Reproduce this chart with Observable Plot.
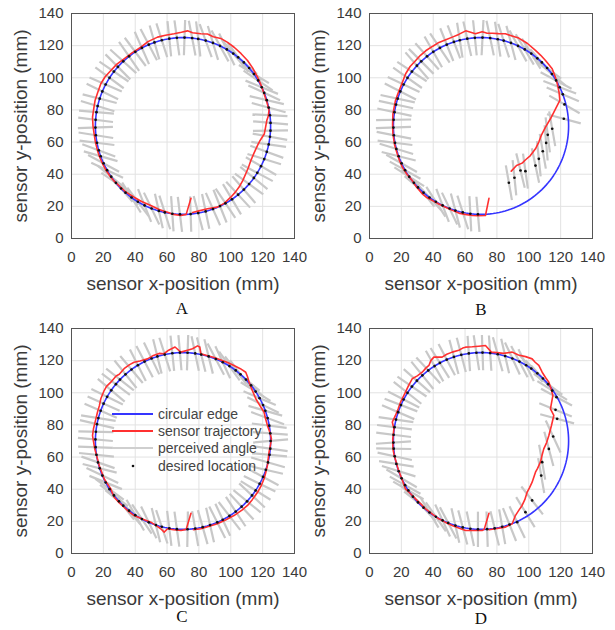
<!DOCTYPE html>
<html><head><meta charset="utf-8">
<script src="https://cdn.jsdelivr.net/npm/d3@7"></script>
<script src="https://cdn.jsdelivr.net/npm/@observablehq/plot@0.6"></script>
<style>
body{margin:0;background:#fff;width:615px;height:630px;position:relative;overflow:hidden;font-family:"Liberation Sans",Arial,sans-serif}
.panel{position:absolute}
.letter{position:absolute;font-family:"Liberation Serif","Times New Roman",serif;font-size:17px;color:#111;transform:translate(-50%,-50%)}
</style></head><body>
<div id="pA" class="panel" style="left:0;top:0"></div>
<div id="pB" class="panel" style="left:298px;top:0"></div>
<div id="pC" class="panel" style="left:0;top:315px"></div>
<div id="pD" class="panel" style="left:298px;top:315px"></div>
<div class="letter" style="left:182px;top:309px">A</div>
<div class="letter" style="left:481px;top:310px">B</div>
<div class="letter" style="left:182px;top:617px">C</div>
<div class="letter" style="left:481px;top:619px">D</div>
<svg id="legend" style="position:absolute;left:100px;top:400px" width="170" height="80">
  <line x1="12" x2="53" y1="14" y2="14" stroke="#3535ff" stroke-width="2"/>
  <line x1="12" x2="53" y1="31" y2="31" stroke="#ff3030" stroke-width="2"/>
  <line x1="12" x2="53" y1="48" y2="48" stroke="#cfcfcf" stroke-width="2"/>
  <circle cx="33" cy="66" r="1.3" fill="#111"/>
  <g font-family="Liberation Sans, Arial, sans-serif" font-size="14" fill="#444" dominant-baseline="central">
    <text x="58" y="14">circular edge</text>
    <text x="58" y="31">sensor trajectory</text>
    <text x="58" y="48">perceived angle</text>
    <text x="58" y="66">desired location</text>
  </g>
</svg>
<script>
// ---- shared axis data ----
const ticks = [0, 20, 40, 60, 80, 100, 120, 140];
const edgeCenterX = 70, edgeCenterY = 70, edgeRadius = 55; // circular edge (mm)

// ---- Panel A ----
const trajAx = [75,72,68.7,64,60.3,55,49.8,44,39.3,34,30.9,27,24.7,22,19.5,17.5,16.3,15,14.2,13.5,13.2,14,14.8,16.5,18.4,21,24.7,28.5,33,38,43.5,48,54,59,64.4,69,72.8,76,81.2,85.4,89,93.7,98,102.1,106.5,110.5,113.8,116.8,119,120.9,122.6,124,123.5,122.6,121.8,121,118.4,116.8,114.5,112.6,111,109.4,107.5,105.2,103,100,96,91.6,85.4,80,76];
const trajAy = [25,15,14.3,15,16.4,18,20.5,23,25.7,29,31.9,35.5,38.1,42,46.5,51,54.8,60,65.1,70,75.5,81,85.9,91,96.3,100.5,104.5,108.5,111.8,115.5,119,122.5,125.3,126.5,127.4,128.3,129.2,128,127.4,127.2,125.5,124.5,122,119,115,110.8,106,100.4,95.5,90,85,79.7,76,73.4,69,65,61,57.9,53,48.5,44,40.3,36,32,29,25.7,22,19.5,18.5,17.2,16.2];
const contactThetaA = [268,263,258,254,249,244,239,234,229,225,220,215,210,205,200,196,191,186,181,176,171,167,162,157,152,147,142,138,133,128,123,118,113,109,104,99,94,89,84,80,75,70,65,60,55,51,46,41,36,31,26,22,17,12,7,2,-3,-7,-12,-17,-22,-27,-32,-36,-41,-46,-51,-56,-61,-65,-70,-75,-80,-85];
const perceivedA = [97,94,108,103,116,112,127,122,136,131,146,141,155,152,164,160,173,171,182,173,175,163,166,154,157,144,146,135,138,125,127,114,118,106,108,96,98,88,101,97,110,107,119,116,130,126,139,135,149,146,158,155,167,165,177,175,181,170,172,160,163,150,152,141,144,131,133,121,124,112,114,102,105,92];

// ---- Panel B ----
const trajBx = [75,72.8,68,64.5,60,56.1,52,47.7,43.5,39.3,36,33.1,29.5,26.8,23.5,20.6,18.8,17.4,15.8,14.7,14.5,14.7,16.3,17.8,19.5,22.7,25.5,29,32,35.3,39.5,43.6,47.5,52,56,60.4,63.5,66.5,70.7,73.5,77,81,85.3,89.5,93.7,99,104.2,107.5,110.5,114.7,116.5,117.9,119,119.5,116.8,113.6,110.5,108,106.3,104.2,101,98,95.8,92.3,89];
const trajBy = [25,14.3,14.2,14.3,15,15.8,17.5,19.5,21.5,23.7,25.5,27.8,32,36.1,40,44.4,48.5,52.7,58,65.1,71,77.6,85.9,90,94.2,102.5,107,110.8,114,116.8,119.5,122,123.5,125.3,127,129.2,128.3,127.4,128.7,127.8,127.7,127.5,127.4,126,124.7,121.5,117,114,110.8,105.6,101,96.3,91,85.9,80.7,74.5,69.3,64.5,60,55.8,51.6,49,46.9,45.4,41.9];
const contactThetaB = [268,263,258,253,249,244,239,234,229,224,220,215,210,205,200,195,191,186,181,176,171,166,162,157,152,147,142,137,133,128,123,118,113,108,104,99,94,89,84,79,75,70,65,60,55,50,46,41,36,31,26,21];
const perceivedB = [95,93,108,105,116,111,123,133,128,140,134,148,151,151,166,163,173,169,2,181,168,168,168,153,155,145,147,131,135,132,120,124,112,111,99,103,96,87,102,99,108,105,119,121,122,136,132,143,140,152,159,157];
const driftBx = [122.4,122,114.7,111.9,110.9,108.8,106.3,104.2,97.9,94.8,91,87.5];
const driftBy = [83.4,74.5,68.3,64.5,59.5,54.3,49.6,45.4,41.9,42.3,37.8,34.7];
const driftPerceivedB = [150,165,100,97,95,100,96,102,98,104,96,100];

// ---- Panel C ----
const trajCx = [75,72,68.7,64,60.3,58.2,56,53,49.8,44.5,39.3,36,33,29.5,26.8,25.5,24.7,22.5,20.5,19,17.4,16,14.6,13.2,13.8,15,16.3,17.5,18.4,20.5,22,24.7,28,30,33,36.5,39.3,43,47.7,51,55,58,61,65,68.6,72.8,76,79.1,80.5,81.2,85,89.6,95,98,102,106,109.4,110.5,111.5,113.5,115.7,118,120.9,121.8,123,124.5,125.5,125,124,123.5,123,122,120.9,119,116.8,113.5,110.5,107,102,97,91.6,86,81.2,76.5];
const trajCy = [25,15,14.3,14.8,15.4,13.3,15.4,17.5,19.5,21.5,23.6,26,28.8,32,35,38,40.2,43.5,46.5,50.5,54.8,60,65.1,73.4,77.6,82.5,87.9,92,96.3,101.4,104,106.6,110.5,111.5,115,117.5,119,119.8,121.1,123,124.5,124.3,126.5,128.5,125.3,126.5,127.4,129.2,128.5,124.2,123.2,122,120,118.8,117,115,112.8,110,106.6,101.5,96.3,92.5,87.9,84,79.7,75.5,71.4,68,63,59,54.8,50.5,46.5,42,38.1,33.5,29.9,27,23.6,21,18.5,16.8,15.4,14.8];
const contactThetaC = [266,261,256,252,247,242,237,232,227,223,218,213,208,203,198,194,189,184,179,174,169,165,160,155,150,145,140,136,131,126,121,116,111,107,102,97,92,87,82,78,73,68,63,58,53,49,44,39,34,29,24,20,15,10,5,0,-5,-9,-14,-19,-24,-29,-34,-38,-43,-48,-53,-58,-63,-67,-72,-77,-82,-87];
const perceivedC = [98,97,109,104,116,124,120,130,128,141,143,144,158,155,166,161,174,178,175,179,167,171,157,156,154,140,143,142,129,130,117,118,116,104,108,96,95,88,102,104,104,118,115,126,128,127,141,138,148,157,154,164,160,173,176,5,172,175,164,167,152,154,148,137,141,133,124,128,115,117,103,106,100,89];

// ---- Panel D ----
const trajDx = [75,72,70.7,65,60.3,56,51.9,47.5,43.5,39.5,35.2,32,28.9,25.5,22.6,21,19.5,18,16.8,15.5,14.7,14.6,15.3,14.3,16.3,18,19.5,22.6,24.5,26.8,30,33.1,35.5,37.3,38.5,40.4,45.6,48.5,51.9,56.1,58.5,60.3,64.5,68.6,72.8,74.5,76.5,80,84,89.6,93.5,98,102.1,104,106.3,108.4,110.5,112.6,114,115.1,113.6,115.7,114.2,112.6,111.2,109.4,108.3,107.3,105.5,104.2,102.1,100.5,99,97.5,95.8,93.5,91.6,89.6,85.4,79.1,75];
const trajDy = [25,15,14.3,14.3,14.3,15.8,17.4,19.5,21.6,24.5,27.8,31,34,37.5,40.2,44.5,48.5,52.5,56.8,61,65.1,71,77.6,81.8,85.9,90,94.2,100.4,104.5,108.7,110.5,112.8,115.5,117,120,122.2,122.2,124,125.3,126.5,127.8,128.4,128.6,129,129.4,127.5,125.3,125,124.5,125.3,123.5,122.5,121.1,119,117,112.8,109.5,106.6,102.5,98.3,90,85.9,79.5,73.4,69,65.1,61,56.8,53,50.6,44.4,41,38.2,33.5,29.9,26.5,23.6,18.5,16.4,15.4,14.8];
const contactThetaD = [268,263,258,253,248,244,239,234,229,224,219,214,210,205,200,195,190,185,181,176,171,166,161,156,152,147,142,137,132,127,122,118,113,108,103,98,93,89,84,79,74,69,64,59,55,50,45,40,-71,-76,-81,-86];
const perceivedD = [90,102,105,103,118,115,125,121,133,142,138,150,151,150,163,171,168,179,184,173,173,172,157,159,153,142,146,139,129,133,120,122,118,105,105,94,99,92,94,106,103,115,118,116,131,133,133,144,112,100,104,92];
const driftDx = [114.7,117.4,116.8,117.8,115.3,112.6,108.4,107.8,102.1,97.9,92.7];
const driftDy = [101.4,97.3,89.4,83.8,72.8,65.1,56.8,48.5,33,25.7,19.5];
const driftPerceivedD = [148,152,158,165,115,105,100,100,128,122,116];

// ---- styling constants ----
const HALF = 11; // half length of perceived-angle segment, mm
const rad = Math.PI / 180;

function buildPanel(tx, ty, thetas, perceived, dx = [], dy = [], dp = []) {
  const traj = tx.map((x, i) => ({x, y: ty[i]}));
  const contacts = thetas.map((t, i) => ({
    x: edgeCenterX + edgeRadius * Math.cos(t * rad),
    y: edgeCenterY + edgeRadius * Math.sin(t * rad),
    a: perceived[i]
  }));
  dx.forEach((x, i) => contacts.push({x, y: dy[i], a: dp[i]}));
  const circle = d3.range(0, 361, 2).map(t => ({
    x: edgeCenterX + edgeRadius * Math.cos(t * rad),
    y: edgeCenterY + edgeRadius * Math.sin(t * rad)
  }));
  return Plot.plot({
    width: 312, height: 300,
    marginLeft: 71, marginRight: 18, marginTop: 13, marginBottom: 62,
    x: {domain: [0, 140], label: null},
    y: {domain: [0, 140], label: null},
    style: {fontFamily: "Liberation Sans, Arial, sans-serif", fontSize: "15px", color: "#3a3a3a", background: "transparent", overflow: "visible"},
    marks: [
      Plot.gridX(ticks, {stroke: "#e2e2e2", strokeOpacity: 1}),
      Plot.gridY(ticks, {stroke: "#e2e2e2", strokeOpacity: 1}),
      Plot.link(contacts, {
        x1: d => d.x - HALF * Math.cos(d.a * rad), y1: d => d.y - HALF * Math.sin(d.a * rad),
        x2: d => d.x + HALF * Math.cos(d.a * rad), y2: d => d.y + HALF * Math.sin(d.a * rad),
        stroke: "#c8c8c8", strokeWidth: 2.2
      }),
      Plot.line(circle, {x: "x", y: "y", stroke: "#3535ff", strokeWidth: 1.6}),
      Plot.line(traj, {x: "x", y: "y", stroke: "#ff3030", strokeWidth: 1.6}),
      Plot.dot(contacts, {x: "x", y: "y", r: 1.35, fill: "#111", stroke: null}),
      Plot.frame({stroke: "#555"}),
      Plot.axisX(ticks, {tickSize: 0, tickPadding: 13, fontSize: 15}),
      Plot.axisY(ticks, {tickSize: 0, tickPadding: 8, fontSize: 15}),
      Plot.text(["sensor x-position (mm)"], {text: d => d, frameAnchor: "bottom", dy: 45, lineAnchor: "middle", textAnchor: "middle", fontSize: 19, fill: "#3a3a3a"}),
      Plot.text(["sensor y-position (mm)"], {text: d => d, frameAnchor: "left", dx: -51, rotate: -90, lineAnchor: "middle", textAnchor: "middle", fontSize: 19, fill: "#3a3a3a"})
    ]
  });
}

document.getElementById("pA").append(buildPanel(trajAx, trajAy, contactThetaA, perceivedA));
document.getElementById("pB").append(buildPanel(trajBx, trajBy, contactThetaB, perceivedB, driftBx, driftBy, driftPerceivedB));
document.getElementById("pC").append(buildPanel(trajCx, trajCy, contactThetaC, perceivedC));
document.getElementById("pD").append(buildPanel(trajDx, trajDy, contactThetaD, perceivedD, driftDx, driftDy, driftPerceivedD));
</script>
</body></html>
